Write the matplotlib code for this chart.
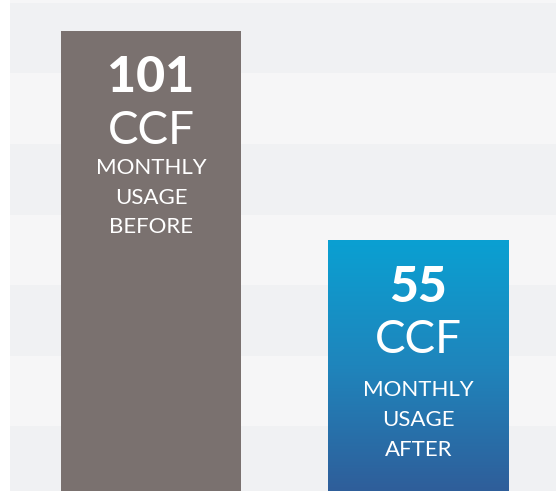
import numpy as np
import matplotlib.pyplot as plt
from matplotlib.colors import LinearSegmentedColormap

# data
categories = ['BEFORE', 'AFTER']
usage_ccf = [101, 55]
unit = 'CCF'
labels = ['MONTHLY\nUSAGE\nBEFORE', 'MONTHLY\nUSAGE\nAFTER']

gray = '#7a716f'
blue_top = '#0aa0d2'
blue_bottom = '#2f5e9a'

fig = plt.figure(figsize=(5.56, 4.91), dpi=100)
fig.patch.set_facecolor('white')
ax = fig.add_axes([10 / 556, 0, 546 / 556, 1])

ymax = 107.8
ax.set_xlim(-0.527, 1.514)
ax.set_ylim(0, ymax)

# background stripes
step = 70.5 / 491 * ymax
top = ymax - 3 / 491 * ymax
ax.axhspan(top, ymax, color='#f6f6f7', lw=0, zorder=0)
k = 0
y = top
while y > -step:
    c = '#f0f1f3' if k % 2 == 0 else '#f6f6f7'
    ax.axhspan(y - step, y, color=c, lw=0, zorder=0)
    y -= step
    k += 1

x = np.arange(len(categories))
width = 0.673
bars = ax.bar(x, usage_ccf, width=width, color=[gray, 'none'], zorder=2)

# gradient fill for the "after" bar
b = bars[1]
cmap = LinearSegmentedColormap.from_list('g', [blue_bottom, '#1f85bc', blue_top])
grad = np.linspace(0, 1, 256).reshape(-1, 1)
im = ax.imshow(grad, cmap=cmap, aspect='auto', origin='lower', zorder=2,
               extent=[b.get_x(), b.get_x() + b.get_width(), 0, b.get_height()])
im.set_clip_path(b)
ax.set_xlim(-0.527, 1.514)
ax.set_ylim(0, ymax)

font = 'Lato'
block_offset = [-135, -148]
for i, (xi, v) in enumerate(zip(x, usage_ccf)):
    ax.annotate(str(v), (xi, v), xytext=(0, -47), textcoords='offset pixels',
                ha='center', va='center', color='white', fontsize=36,
                fontweight='black', family=font, zorder=3)
    ax.annotate(unit, (xi, v), xytext=(0, -100), textcoords='offset pixels',
                ha='center', va='center', color='white', fontsize=33,
                fontweight='normal', family=font, zorder=3)
    ax.annotate(labels[i], (xi, v), xytext=(0, block_offset[i] + 8),
                textcoords='offset pixels', ha='center', va='top',
                color='white', fontsize=16, family=font, linespacing=1.6,
                zorder=3)

ax.axis('off')
fig.savefig('out.png', dpi=100, facecolor='white')
